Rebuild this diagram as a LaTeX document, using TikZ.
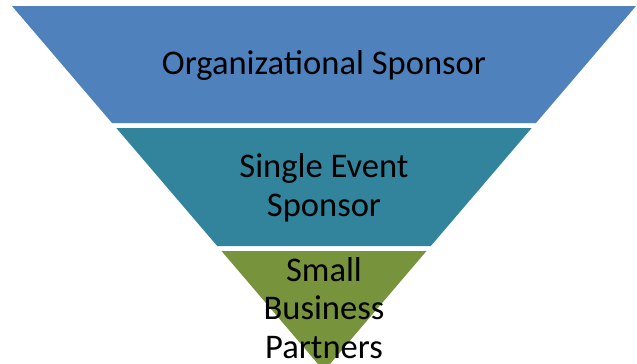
\documentclass[tikz,border=0pt]{standalone}
\usepackage{fontspec}
\setmainfont{Carlito}
\usepackage{tikz}

\definecolor{bandblue}{HTML}{4F81BD}
\definecolor{bandteal}{HTML}{31849B}
\definecolor{bandgreen}{HTML}{77933C}

\begin{document}
\begin{tikzpicture}[x = 0.03cm, y = -0.03cm,
				tiertext/.style = {align = center, text = black, inner sep = 0pt,
				font = \fontsize{29.5}{33}\selectfont}]
	\useasboundingbox (0,0) rectangle (637,364);

	\fill [bandblue] (12,6) -- (636,6) -- (536,123) -- (112,123) -- cycle;
	\fill [bandteal] (116.3,128) -- (531.7,128) -- (430.8,246) -- (217.2,246) -- cycle;
	\fill [bandgreen] (221.5,251) -- (426.5,251) -- (330,364) -- (318,364) -- cycle;

	\node [tiertext] (org) at (324,65) {Organizational Sponsor};
	\node [tiertext] (single) at (324,188) {Single Event\\Sponsor};
	\node [tiertext] (small) at (324,308) {Small\\Business\\Partners};
\end{tikzpicture}
\end{document}
